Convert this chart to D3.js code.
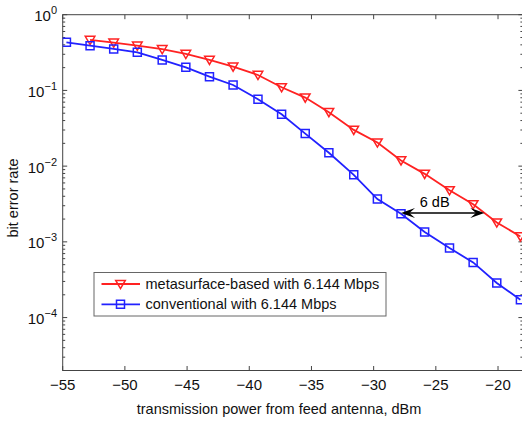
<!DOCTYPE html>
<html>
<head>
<meta charset="utf-8">
<script src="https://cdn.jsdelivr.net/npm/d3@7"></script>
<style>
  html, body { margin: 0; padding: 0; background: #fff; }
  svg { display: block; font-family: "Liberation Sans", Arial, Helvetica, sans-serif; }
</style>
</head>
<body>
<svg id="chart" width="522" height="421"></svg>
<script>
// Transmission power (dBm) at each measured point
const power = [-54.7, -52.8, -50.9, -49.0, -47.0, -45.1, -43.2, -41.3, -39.3, -37.4,
               -35.5, -33.6, -31.6, -29.7, -27.8, -25.9, -23.9, -22.0, -20.1, -18.2];

// Bit error rate, conventional feed (all points)
const berConventional = [0.432, 0.390, 0.353, 0.319, 0.253, 0.202, 0.152, 0.118, 0.0766, 0.0485,
                         0.0269, 0.0150, 0.00768, 0.00367, 0.00235, 0.00135, 0.000828, 0.000535, 0.000286, 0.000172];

// Bit error rate, metasurface-based (starts at the second power point)
const berMetasurface = [0.464, 0.427, 0.390, 0.350, 0.303, 0.253, 0.206, 0.160, 0.110, 0.0804,
                        0.0516, 0.0301, 0.0205, 0.0119, 0.00791, 0.00480, 0.00313, 0.00180, 0.00118];

const xTickValues = [-55, -50, -45, -40, -35, -30, -25, -20];
const yTickExponents = [0, -1, -2, -3, -4];

const seriesNames = ["metasurface-based with 6.144 Mbps", "conventional with 6.144 Mbps"];

// 6 dB gap annotation: from the conventional curve to the metasurface curve
const gapStart = -27.8, gapEnd = -21.1, gapBer = 0.0024, gapLabel = "6 dB";

const RED = "#ff2222", BLUE = "#2222ff", AXIS = "#444";

const svg = d3.select("#chart");

const x = d3.scaleLinear().domain([-55, -18]).range([62.7, 522.9]);
const y = d3.scaleLog().domain([2e-5, 1]).range([370.5, 14.7]);

const [x0, x1] = x.range();
const [yb, yt] = y.range();

// clip to the plot area
svg.append("defs").append("clipPath").attr("id", "plotClip")
  .append("rect").attr("x", x0).attr("y", yt).attr("width", x1 - x0).attr("height", yb - yt);

// frame
const frame = svg.append("g").attr("stroke", AXIS).attr("stroke-width", 1).attr("fill", "none");
frame.append("rect").attr("x", x0).attr("y", yt).attr("width", x1 - x0).attr("height", yb - yt);

// x ticks (inward, bottom and top)
const majorLen = 4.5, minorLen = 2.5;
xTickValues.forEach(v => {
  const px = x(v);
  frame.append("line").attr("x1", px).attr("x2", px).attr("y1", yb).attr("y2", yb - majorLen);
  frame.append("line").attr("x1", px).attr("x2", px).attr("y1", yt).attr("y2", yt + majorLen);
});

// y ticks: major decades and log minor ticks, left and right
const [dMin, dMax] = y.domain();
for (let e = -5; e <= 0; e++) {
  for (let m = 1; m <= 9; m++) {
    const v = m * Math.pow(10, e);
    if (v < dMin * 0.999 || v > dMax * 1.001) continue;
    const len = m === 1 ? majorLen : minorLen;
    const py = y(v);
    frame.append("line").attr("x1", x0).attr("x2", x0 + len).attr("y1", py).attr("y2", py);
    frame.append("line").attr("x1", x1).attr("x2", x1 - len).attr("y1", py).attr("y2", py);
  }
}

// x tick labels
svg.append("g").selectAll("text").data(xTickValues).join("text")
  .attr("x", d => x(d)).attr("y", 389.5)
  .attr("text-anchor", "middle").attr("font-size", 15).attr("fill", "#111")
  .text(d => d < 0 ? "\u2212" + Math.abs(d) : String(d));

// y tick labels: 10 with superscript exponent
const yl = svg.append("g").attr("fill", "#111");
yTickExponents.forEach(e => {
  const t = yl.append("text").attr("x", 57).attr("y", y(Math.pow(10, e)) + 6.5)
    .attr("text-anchor", "end").attr("font-size", 15);
  t.append("tspan").text("10");
  t.append("tspan").attr("dy", -7).attr("font-size", 11)
    .text(e < 0 ? "\u2212" + Math.abs(e) : String(e));
});

// axis titles
svg.append("text").attr("x", 279).attr("y", 414)
  .attr("text-anchor", "middle").attr("font-size", 14.5).attr("fill", "#111")
  .text("transmission power from feed antenna, dBm");
svg.append("text").attr("transform", "translate(18,198) rotate(-90)")
  .attr("text-anchor", "middle").attr("font-size", 14.5).attr("fill", "#111")
  .text("bit error rate");

// data series
const conv = power.map((p, i) => ({ p, b: berConventional[i] }));
const meta = berMetasurface.map((b, i) => ({ p: power[i + 1], b }));

const line = d3.line().x(d => x(d.p)).y(d => y(d.b));
const plot = svg.append("g").attr("clip-path", "url(#plotClip)");

const tri = (cx, cy, s) => `M${cx - s},${cy - s * 0.75}L${cx + s},${cy - s * 0.75}L${cx},${cy + s * 0.95}Z`;
const sq = (cx, cy, s) => `M${cx - s},${cy - s}H${cx + s}V${cy + s}H${cx - s}Z`;

function drawSeries(data, color, markerPath, size) {
  plot.append("path").datum(data).attr("d", line)
    .attr("fill", "none").attr("stroke", color).attr("stroke-width", 1.8);
  plot.append("g").selectAll("path").data(data).join("path")
    .attr("d", d => markerPath(x(d.p), y(d.b), size))
    .attr("fill", "none").attr("stroke", color).attr("stroke-width", 1.5);
}
drawSeries(meta, RED, tri, 4.8);
drawSeries(conv, BLUE, sq, 4);

// double-headed arrow with label
const ax0 = x(gapStart), ax1 = x(gapEnd), ay = y(gapBer);
const ann = svg.append("g");
ann.append("line").attr("x1", ax0 + 8).attr("x2", ax1 - 8).attr("y1", ay).attr("y2", ay)
  .attr("stroke", "#000").attr("stroke-width", 1.5);
const head = (tx, dir) => {
  const L = 14 * dir, w = 5;
  return `M${tx},${ay}L${tx + L},${ay - w}L${tx + L * 0.6},${ay}L${tx + L},${ay + w}Z`;
};
ann.append("path").attr("d", head(ax0, 1)).attr("fill", "#000");
ann.append("path").attr("d", head(ax1, -1)).attr("fill", "#000");
ann.append("text").attr("x", (ax0 + ax1) / 2 - 8).attr("y", ay - 6)
  .attr("text-anchor", "middle").attr("font-size", 14.5).attr("fill", "#000")
  .text(gapLabel);

// legend
const lg = svg.append("g").attr("transform", "translate(94,272.5)");
lg.append("rect").attr("width", 292).attr("height", 43.5)
  .attr("fill", "#fff").attr("stroke", "#666").attr("stroke-width", 1);
const legendRows = [
  { name: seriesNames[0], color: RED, marker: tri, size: 4.8 },
  { name: seriesNames[1], color: BLUE, marker: sq, size: 4 }
];
legendRows.forEach((r, i) => {
  const cy = 11.5 + i * 20.3;
  lg.append("line").attr("x1", 7.5).attr("x2", 46).attr("y1", cy).attr("y2", cy)
    .attr("stroke", r.color).attr("stroke-width", 1.8);
  lg.append("path").attr("d", r.marker(26.5, cy, r.size))
    .attr("fill", "none").attr("stroke", r.color).attr("stroke-width", 1.5);
  lg.append("text").attr("x", 51.5).attr("y", cy + 5)
    .attr("font-size", 14.5).attr("fill", "#111").text(r.name);
});
</script>
</body>
</html>
